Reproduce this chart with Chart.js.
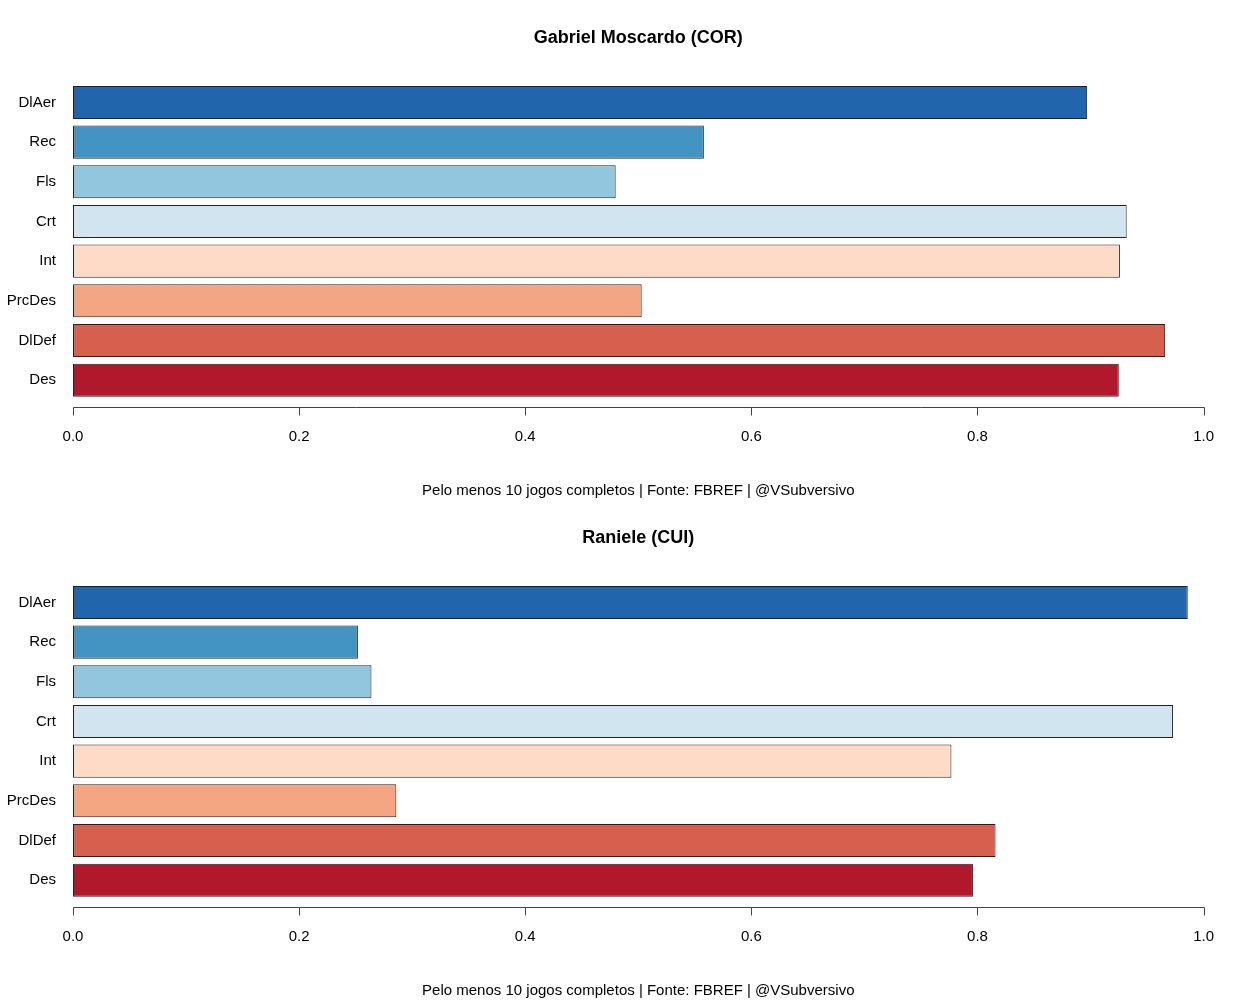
<!DOCTYPE html>
<html>
<head>
<meta charset="utf-8">
<script src="https://cdn.jsdelivr.net/npm/chart.js@4"></script>
<style>
  body { margin: 0; background: #fff; }
  canvas { display: block; }
</style>
</head>
<body>
<canvas id="top" width="1242" height="500"></canvas>
<canvas id="bottom" width="1242" height="500"></canvas>
<script>
// stat labels, top to bottom
var categories = ['DlAer', 'Rec', 'Fls', 'Crt', 'Int', 'PrcDes', 'DlDef', 'Des'];
// RdBu palette, one colour per stat
var barColors = ['#2166AC', '#4393C3', '#92C5DE', '#D1E5F0', '#FDDBC7', '#F4A582', '#D6604D', '#B2182B'];

var moscardoValues = [0.897, 0.558, 0.480, 0.932, 0.926, 0.503, 0.966, 0.925];
var ranieleValues  = [0.986, 0.252, 0.264, 0.973, 0.777, 0.286, 0.816, 0.796];

var xTicks = [0, 0.2, 0.4, 0.6, 0.8, 1.0];
var caption = 'Pelo menos 10 jogos completos | Fonte: FBREF | @VSubversivo';

Chart.defaults.font.family = '"Liberation Sans", Arial, Helvetica, sans-serif';
Chart.defaults.color = '#000';

// R-style detached x axis: line + tick marks under the plot region
var rAxis = {
  id: 'rAxis',
  afterDraw: function(chart) {
    var ctx = chart.ctx, x = chart.scales.x;
    var y0 = Math.round(chart.chartArea.bottom + 7);
    ctx.save();
    ctx.strokeStyle = '#444';
    ctx.lineWidth = 1;
    ctx.beginPath();
    ctx.moveTo(Math.round(x.getPixelForValue(xTicks[0])) + 0.5, y0 + 0.5);
    ctx.lineTo(Math.round(x.getPixelForValue(xTicks[xTicks.length - 1])) + 0.5, y0 + 0.5);
    xTicks.forEach(function(t) {
      var px = Math.round(x.getPixelForValue(t)) + 0.5;
      ctx.moveTo(px, y0 + 0.5);
      ctx.lineTo(px, y0 + 8.5);
    });
    ctx.stroke();
    ctx.restore();
  }
};

function makeChart(id, title, values) {
  return new Chart(document.getElementById(id), {
    type: 'bar',
    data: {
      labels: categories,
      datasets: [{
        data: values,
        backgroundColor: barColors,
        borderColor: '#222',
        borderWidth: 1,
        borderSkipped: false,
        barPercentage: 1 / 1.2,
        categoryPercentage: 1
      }]
    },
    plugins: [rAxis],
    options: {
      indexAxis: 'y',
      responsive: false,
      animation: false,
      layout: { padding: { left: 0, right: 38, top: 0, bottom: 0 } },
      plugins: {
        legend: { display: false },
        tooltip: { enabled: false },
        // fullSize false -> centred over the plot region, as R does
        title: {
          display: true,
          fullSize: false,
          text: title,
          font: { size: 18, weight: 'bold' },
          padding: { top: 27, bottom: 34 }
        },
        subtitle: {
          display: true,
          fullSize: false,
          position: 'bottom',
          text: caption,
          font: { size: 15 },
          padding: { top: 18, bottom: 0 }
        }
      },
      scales: {
        x: {
          min: 0,
          max: 1,
          grid: { display: false, drawTicks: false },
          border: { display: false },
          afterBuildTicks: function(scale) {
            scale.ticks = xTicks.map(function(v) { return { value: v }; });
          },
          afterFit: function(scale) { scale.height = 64; },
          ticks: {
            font: { size: 15 },
            padding: 28,
            callback: function(v) { return Number(v).toFixed(1); }
          }
        },
        y: {
          grid: { display: false, drawTicks: false },
          border: { display: false },
          afterFit: function(scale) { scale.width = 73; },
          ticks: { font: { size: 15 }, padding: 17 }
        }
      }
    }
  });
}

makeChart('top', 'Gabriel Moscardo (COR)', moscardoValues);
makeChart('bottom', 'Raniele (CUI)', ranieleValues);
</script>
</body>
</html>
